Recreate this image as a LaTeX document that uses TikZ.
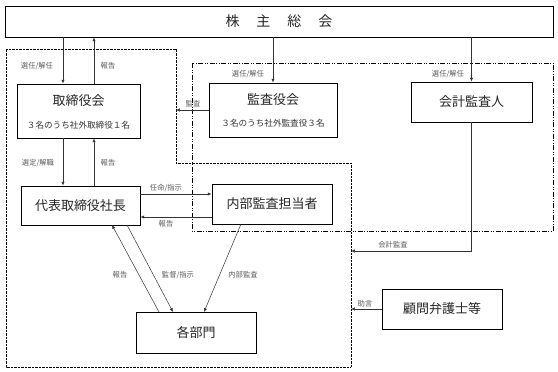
\documentclass[tikz,border=0pt]{standalone}
\usepackage{fontspec}
\newfontfamily\jp{Noto Sans CJK JP}
\usetikzlibrary{arrows.meta}
\begin{document}
\begin{tikzpicture}[x=1pt,y=-1pt,
  box/.style={draw=black,line width=0.8pt,inner sep=0pt,fill=white},
  ttl/.style={font=\jp\fontsize{13}{13}\selectfont,text=black!85,inner sep=0pt},
  sub/.style={font=\jp\fontsize{8.6}{9}\selectfont,text=black!80,inner sep=0pt},
  lbl/.style={font=\jp\fontsize{7.3}{8}\selectfont,text=black!65,inner sep=0pt},
  arr/.style={line width=0.5pt,draw=black!80,-{Latex[length=3.8pt,width=3.2pt]}},
  ln/.style={line width=0.5pt,draw=black!80},
  dotreg/.style={line width=0.8pt,dash pattern=on 0.8pt off 0.6pt},
  dashdotreg/.style={line width=0.7pt,dash pattern=on 5pt off 1.5pt on 1pt off 1.5pt on 1pt off 1.5pt}]
\useasboundingbox (0,0) rectangle (558,372);
% regions
\draw[dotreg] (6,49) -- (176,49) -- (176,163) -- (351,163) -- (351,367) -- (6,367) -- cycle;
\draw[dashdotreg] (192,63) rectangle (553,231);
% boxes
\node[box,minimum width=548,minimum height=31] (kabu) at (279,21.5) {};
\node[ttl,font=\jp\fontsize{14}{14}\selectfont] (kabut) at (kabu.center) {株\hspace{17pt}主\hspace{17pt}総\hspace{17pt}会};
\node[box,minimum width=123,minimum height=54] (tori) at (78.5,111) {};
\node[ttl] (torit) at (78.5,101) {取締役会};
\node[sub] (toris) at (78.5,125) {３名のうち社外取締役１名};
\node[box,minimum width=128,minimum height=54] (kansa) at (273,110) {};
\node[ttl] (kansat) at (273,100) {監査役会};
\node[sub] (kansas) at (273,123) {３名のうち社外監査役３名};
\node[box,minimum width=121,minimum height=40] (kaikei) at (471.5,102) {};
\node[ttl] (kaikeit) at (kaikei.center) {会計監査人};
\node[box,minimum width=119,minimum height=39] (daihyo) at (80.5,205.5) {};
\node[ttl] (daihyot) at (daihyo.center) {代表取締役社長};
\node[box,minimum width=120,minimum height=40] (naibu) at (272,204) {};
\node[ttl] (naibut) at (naibu.center) {内部監査担当者};
\node[box,minimum width=120,minimum height=40] (komon) at (442,309) {};
\node[ttl] (komont) at (komon.center) {顧問弁護士等};
\node[box,minimum width=120,minimum height=41] (kaku) at (196,332.5) {};
\node[ttl] (kakut) at (kaku.center) {各部門};
% helper coordinates
\coordinate (tl) at ([xshift=-15.5pt]tori.north);
\coordinate (tr) at ([xshift=15.5pt]tori.north);
\coordinate (kansaIn) at (176,110);
\coordinate (kaikeiCorner) at (471.5,251);
\coordinate (kaikeiIn) at (351,251);
\coordinate (komonIn) at (351,309);
\coordinate (ya) at (0,194);
\coordinate (yb) at (0,217);
\coordinate (dA) at (112,225);
\coordinate (dB) at (127,225);
\coordinate (kA) at (159,312);
\coordinate (kB) at (173,312);
\coordinate (kC) at (204,312);
\coordinate (nA) at (241,224);
% connectors
\draw[arr] (kabu.south -| tl) -- (tl);
\draw[arr] (tr) -- (kabu.south -| tr);
\draw[arr] (tori.south -| tl) -- (daihyo.north -| tl);
\draw[arr] (daihyo.north -| tr) -- (tori.south -| tr);
\draw[arr] (kabu.south -| kansa.north) -- (kansa.north);
\draw[arr] (kabu.south -| kaikei.north) -- (kaikei.north);
\draw[arr] (kansa.west |- kansaIn) -- (kansaIn);
\draw[arr] (daihyo.east |- ya) -- (naibu.west |- ya);
\draw[arr] (naibu.west |- yb) -- (daihyo.east |- yb);
\draw[arr] (kaikei.south) -- (kaikeiCorner) -- (kaikeiIn);
\draw[arr] (komon.west) -- (komonIn);
\draw[arr] (dB) -- (kB);
\draw[arr] (kA) -- (dA);
\draw[arr] (nA) -- (kC);
% labels
\node[lbl] (l1) at (37,66) {選任/解任};
\node[lbl] (l2) at (108,66) {報告};
\node[lbl] (l3) at (248,74) {選任/解任};
\node[lbl] (l4) at (448,74) {選任/解任};
\node[lbl] (l5) at (193,104) {監査};
\node[lbl] (l6) at (38,163) {選定/解職};
\node[lbl] (l7) at (108,163) {報告};
\node[lbl] (l8) at (166,188) {任命/指示};
\node[lbl] (l9) at (166,224) {報告};
\node[lbl] (l10) at (393,245) {会計監査};
\node[lbl] (l11) at (365,304) {助言};
\node[lbl] (l12) at (120,275) {報告};
\node[lbl] (l13) at (178,275) {監督/指示};
\node[lbl] (l14) at (243,275) {内部監査};
\end{tikzpicture}
\end{document}
